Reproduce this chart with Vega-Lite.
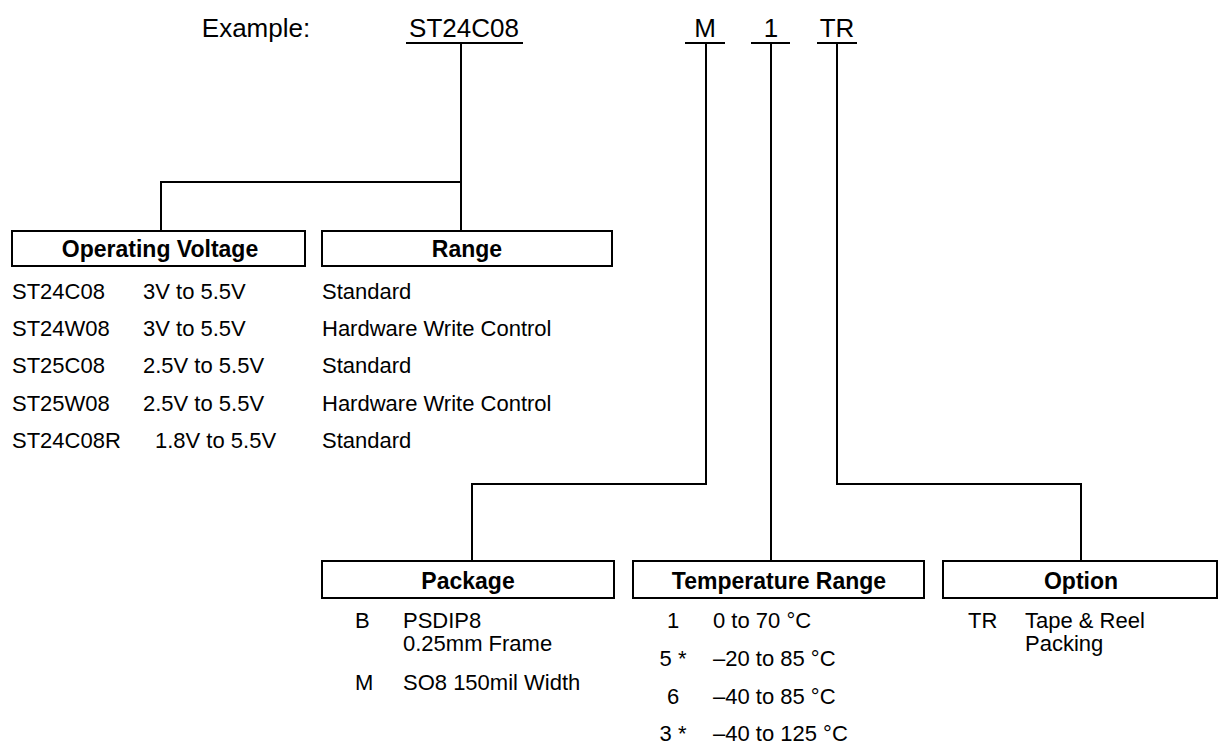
{
  "$schema": "https://vega.github.io/schema/vega-lite/v6.json",
  "width": 1229,
  "height": 745,
  "padding": 0,
  "autosize": {"type": "fit", "contains": "padding"},
  "background": "white",
  "config": {"view": {"stroke": null}},
  "datasets": {
    "lines": [
      {"x": 407, "y": 43, "x2": 522, "y2": 43},
      {"x": 686, "y": 43, "x2": 724, "y2": 43},
      {"x": 752, "y": 43, "x2": 789, "y2": 43},
      {"x": 818, "y": 43, "x2": 856, "y2": 43},
      {"x": 461, "y": 43, "x2": 461, "y2": 182},
      {"x": 161, "y": 182, "x2": 461, "y2": 182},
      {"x": 161, "y": 182, "x2": 161, "y2": 231},
      {"x": 461, "y": 182, "x2": 461, "y2": 231},
      {"x": 706, "y": 43, "x2": 706, "y2": 484},
      {"x": 472, "y": 484, "x2": 706, "y2": 484},
      {"x": 472, "y": 484, "x2": 472, "y2": 561},
      {"x": 771, "y": 43, "x2": 771, "y2": 561},
      {"x": 837, "y": 43, "x2": 837, "y2": 484},
      {"x": 837, "y": 484, "x2": 1081, "y2": 484},
      {"x": 1081, "y": 484, "x2": 1081, "y2": 561}
    ],
    "boxes": [
      {"name": "Operating Voltage", "x": 12, "y": 231, "x2": 305, "y2": 266},
      {"name": "Range", "x": 322, "y": 231, "x2": 612, "y2": 266},
      {"name": "Package", "x": 322, "y": 561, "x2": 614, "y2": 598},
      {"name": "Temperature Range", "x": 633, "y": 561, "x2": 924, "y2": 598},
      {"name": "Option", "x": 943, "y": 561, "x2": 1217, "y2": 598}
    ],
    "texts": [
      {"role": "heading", "x": 160, "y": 257, "text": "Operating Voltage"},
      {"role": "heading", "x": 467, "y": 257, "text": "Range"},
      {"role": "heading", "x": 468, "y": 589, "text": "Package"},
      {"role": "heading", "x": 779, "y": 589, "text": "Temperature Range"},
      {"role": "heading", "x": 1081, "y": 589, "text": "Option"},
      {"role": "top", "x": 256, "y": 37, "text": "Example:"},
      {"role": "top", "x": 464, "y": 37, "text": "ST24C08"},
      {"role": "top", "x": 705, "y": 37, "text": "M"},
      {"role": "top", "x": 771, "y": 37, "text": "1"},
      {"role": "top", "x": 837, "y": 37, "text": "TR"},
      {"role": "item", "x": 12, "y": 299, "text": "ST24C08"},
      {"role": "item", "x": 143, "y": 299, "text": "3V to 5.5V"},
      {"role": "item", "x": 322, "y": 299, "text": "Standard"},
      {"role": "item", "x": 12, "y": 336, "text": "ST24W08"},
      {"role": "item", "x": 143, "y": 336, "text": "3V to 5.5V"},
      {"role": "item", "x": 322, "y": 336, "text": "Hardware Write Control"},
      {"role": "item", "x": 12, "y": 373, "text": "ST25C08"},
      {"role": "item", "x": 143, "y": 373, "text": "2.5V to 5.5V"},
      {"role": "item", "x": 322, "y": 373, "text": "Standard"},
      {"role": "item", "x": 12, "y": 411, "text": "ST25W08"},
      {"role": "item", "x": 143, "y": 411, "text": "2.5V to 5.5V"},
      {"role": "item", "x": 322, "y": 411, "text": "Hardware Write Control"},
      {"role": "item", "x": 12, "y": 448, "text": "ST24C08R"},
      {"role": "item", "x": 155, "y": 448, "text": "1.8V to 5.5V"},
      {"role": "item", "x": 322, "y": 448, "text": "Standard"},
      {"role": "item", "x": 355, "y": 628, "text": "B"},
      {"role": "item", "x": 403, "y": 628, "text": "PSDIP8"},
      {"role": "item", "x": 403, "y": 651, "text": "0.25mm Frame"},
      {"role": "item", "x": 355, "y": 690, "text": "M"},
      {"role": "item", "x": 403, "y": 690, "text": "SO8 150mil Width"},
      {"role": "key", "x": 673, "y": 628, "text": "1"},
      {"role": "item", "x": 713, "y": 628, "text": "0 to 70 °C"},
      {"role": "key", "x": 673, "y": 666, "text": "5 *"},
      {"role": "item", "x": 713, "y": 666, "text": "–20 to 85 °C"},
      {"role": "key", "x": 673, "y": 704, "text": "6"},
      {"role": "item", "x": 713, "y": 704, "text": "–40 to 85 °C"},
      {"role": "key", "x": 673, "y": 741, "text": "3 *"},
      {"role": "item", "x": 713, "y": 741, "text": "–40 to 125 °C"},
      {"role": "item", "x": 968, "y": 628, "text": "TR"},
      {"role": "item", "x": 1025, "y": 628, "text": "Tape & Reel"},
      {"role": "item", "x": 1025, "y": 651, "text": "Packing"}
    ]
  },
  "resolve": {"scale": {"x": "shared", "y": "shared"}},
  "layer": [
    {
      "data": {"name": "boxes"},
      "mark": {"type": "rect", "fill": "white", "stroke": "black", "strokeWidth": 2},
      "encoding": {
        "x": {"field": "x", "type": "quantitative", "scale": {"domain": [0, 1229], "nice": false, "zero": false}, "axis": null},
        "x2": {"field": "x2"},
        "y": {"field": "y", "type": "quantitative", "scale": {"domain": [745, 0], "nice": false, "zero": false}, "axis": null},
        "y2": {"field": "y2"}
      }
    },
    {
      "data": {"name": "lines"},
      "mark": {"type": "rule", "color": "black", "strokeWidth": 2, "strokeCap": "square"},
      "encoding": {
        "x": {"field": "x", "type": "quantitative"},
        "x2": {"field": "x2"},
        "y": {"field": "y", "type": "quantitative"},
        "y2": {"field": "y2"}
      }
    },
    {
      "data": {"name": "texts"},
      "transform": [{"filter": "datum.role === 'heading'"}],
      "mark": {"type": "text", "font": "Liberation Sans", "fontSize": 23, "fontWeight": "bold", "align": "center", "baseline": "alphabetic", "color": "black"},
      "encoding": {
        "x": {"field": "x", "type": "quantitative"},
        "y": {"field": "y", "type": "quantitative"},
        "text": {"field": "text"}
      }
    },
    {
      "data": {"name": "texts"},
      "transform": [{"filter": "datum.role === 'top'"}],
      "mark": {"type": "text", "font": "Liberation Sans", "fontSize": 26, "align": "center", "baseline": "alphabetic", "color": "black"},
      "encoding": {
        "x": {"field": "x", "type": "quantitative"},
        "y": {"field": "y", "type": "quantitative"},
        "text": {"field": "text"}
      }
    },
    {
      "data": {"name": "texts"},
      "transform": [{"filter": "datum.role === 'key'"}],
      "mark": {"type": "text", "font": "Liberation Sans", "fontSize": 22, "align": "center", "baseline": "alphabetic", "color": "black"},
      "encoding": {
        "x": {"field": "x", "type": "quantitative"},
        "y": {"field": "y", "type": "quantitative"},
        "text": {"field": "text"}
      }
    },
    {
      "data": {"name": "texts"},
      "transform": [{"filter": "datum.role === 'item'"}],
      "mark": {"type": "text", "font": "Liberation Sans", "fontSize": 22, "align": "left", "baseline": "alphabetic", "color": "black"},
      "encoding": {
        "x": {"field": "x", "type": "quantitative"},
        "y": {"field": "y", "type": "quantitative"},
        "text": {"field": "text"}
      }
    }
  ]
}
